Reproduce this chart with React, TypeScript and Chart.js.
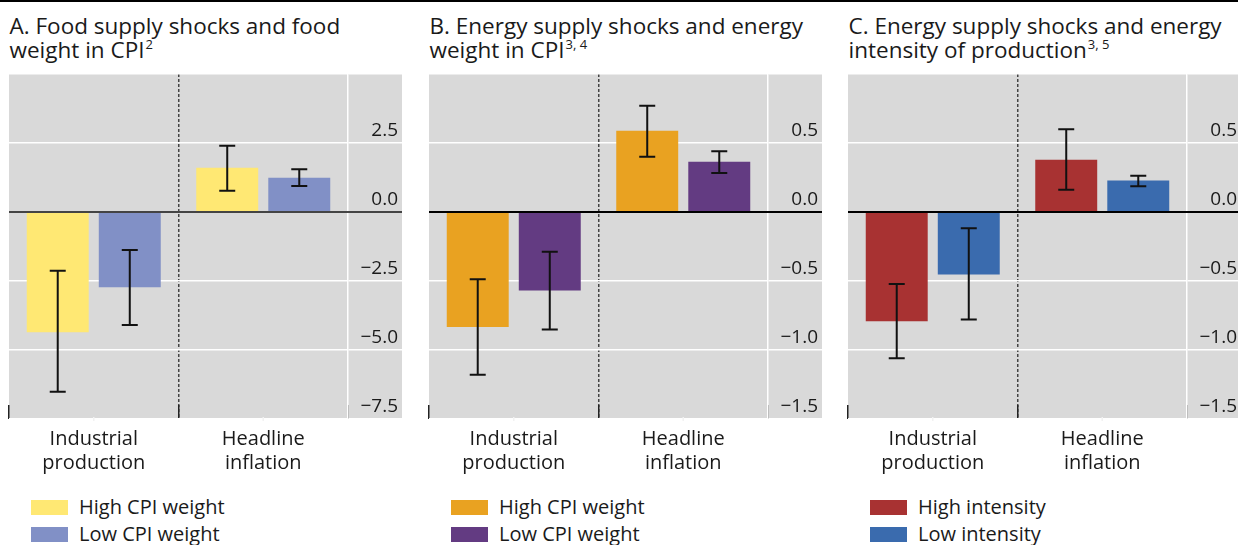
import React, { useEffect, useRef } from 'react';
import { Chart, registerables } from 'chart.js';

Chart.register(...registerables);

// ---------- Data ----------
const CATEGORIES = [['Industrial', 'production'], ['Headline', 'inflation']];

// Panel A: food supply shocks, food weight in CPI
const A_SERIES = ['High CPI weight', 'Low CPI weight'];
const A_HIGH = [-4.36, 1.6];
const A_HIGH_LO = [-6.51, 0.77];
const A_HIGH_HI = [-2.13, 2.4];
const A_LOW = [-2.73, 1.24];
const A_LOW_LO = [-4.09, 0.94];
const A_LOW_HI = [-1.38, 1.55];
const A_AXIS = { min: -7.5, max: 5, step: 2.5 };

// Panel B: energy supply shocks, energy weight in CPI
const B_SERIES = ['High CPI weight', 'Low CPI weight'];
const B_HIGH = [-0.834, 0.588];
const B_HIGH_LO = [-1.18, 0.4];
const B_HIGH_HI = [-0.487, 0.77];
const B_LOW = [-0.568, 0.365];
const B_LOW_LO = [-0.851, 0.283];
const B_LOW_HI = [-0.288, 0.44];
const B_AXIS = { min: -1.5, max: 1, step: 0.5 };

// Panel C: energy supply shocks, energy intensity of production
const C_SERIES = ['High intensity', 'Low intensity'];
const C_HIGH = [-0.791, 0.379];
const C_HIGH_LO = [-1.06, 0.161];
const C_HIGH_HI = [-0.522, 0.6];
const C_LOW = [-0.453, 0.228];
const C_LOW_LO = [-0.779, 0.187];
const C_LOW_HI = [-0.117, 0.262];
const C_AXIS = { min: -1.5, max: 1, step: 0.5 };

const FONT = '"Open Sans", "Noto Sans", sans-serif';
const TEXT = '#1a1a1a';
const PANEL_BG = '#d9d9d9';

// ---------- Plugins ----------
const backgroundPlugin = {
  id: 'panelBg',
  beforeDraw(chart: any) {
    const { ctx, chartArea } = chart;
    const y = chart.scales.y;
    ctx.save();
    ctx.fillStyle = PANEL_BG;
    ctx.fillRect(chartArea.left, chartArea.top, y.right - chartArea.left, chartArea.bottom - chartArea.top);
    ctx.restore();
  },
};

const overlayPlugin = {
  id: 'overlay',
  afterDatasetsDraw(chart: any, _args: any, opts: any) {
    const { ctx, chartArea } = chart;
    const y = chart.scales.y;
    const x = chart.scales.x;
    ctx.save();
    // small light ticks at category centres along the bottom edge
    ctx.strokeStyle = '#f2f2f2';
    ctx.lineWidth = 1.5;
    for (let i = 0; i < x.ticks.length; i++) {
      const px = x.getPixelForTick(i);
      ctx.beginPath();
      ctx.moveTo(px, chartArea.bottom - 2);
      ctx.lineTo(px, chartArea.bottom + 2);
      ctx.stroke();
    }
    // zero line
    const y0 = y.getPixelForValue(0);
    ctx.strokeStyle = opts.zeroColor || '#000';
    ctx.lineWidth = 2;
    ctx.beginPath();
    ctx.moveTo(chartArea.left, y0);
    ctx.lineTo(y.right, y0);
    ctx.stroke();
    // error bars
    ctx.strokeStyle = '#111';
    ctx.lineWidth = 2;
    chart.data.datasets.forEach((ds: any, di: number) => {
      const meta = chart.getDatasetMeta(di);
      meta.data.forEach((el: any, i: number) => {
        const px = el.x;
        const yl = y.getPixelForValue(ds.errLo[i]);
        const yh = y.getPixelForValue(ds.errHi[i]);
        ctx.beginPath();
        ctx.moveTo(px, yl);
        ctx.lineTo(px, yh);
        ctx.moveTo(px - 8, yl);
        ctx.lineTo(px + 8, yl);
        ctx.moveTo(px - 8, yh);
        ctx.lineTo(px + 8, yh);
        ctx.stroke();
      });
    });
    ctx.restore();
  },
};

function fmt(v: number, max: number) {
  if (Math.abs(v - max) < 1e-9) return '';
  const s = Math.abs(v).toFixed(1);
  return v < -1e-9 ? '\u2212' + s : s;
}

type PanelProps = {
  left: number;
  line1: string;
  line2: string;
  sup: string;
  series: string[];
  colors: string[];
  high: number[];
  highLo: number[];
  highHi: number[];
  low: number[];
  lowLo: number[];
  lowHi: number[];
  axis: { min: number; max: number; step: number };
  zeroColor: string;
};

function Panel(p: PanelProps) {
  const ref = useRef<HTMLCanvasElement | null>(null);

  useEffect(() => {
    if (!ref.current) return;
    const chart = new Chart(ref.current, {
      type: 'bar',
      data: {
        labels: CATEGORIES as any,
        datasets: [
          { label: p.series[0], data: p.high, backgroundColor: p.colors[0], errLo: p.highLo, errHi: p.highHi } as any,
          { label: p.series[1], data: p.low, backgroundColor: p.colors[1], errLo: p.lowLo, errHi: p.lowHi } as any,
        ],
      },
      options: {
        animation: false,
        responsive: false,
        maintainAspectRatio: false,
        layout: { padding: { left: 9, top: 4, right: 8, bottom: 0 } },
        datasets: { bar: { categoryPercentage: 0.85, barPercentage: 0.86 } },
        plugins: {
          legend: { display: false },
          tooltip: { enabled: false },
          overlay: { zeroColor: p.zeroColor },
        } as any,
        scales: {
          x: {
            type: 'category',
            offset: true,
            grid: {
              display: true,
              offset: true,
              drawOnChartArea: true,
              color: (ctx: any) => (ctx.index === 1 ? '#444' : 'rgba(0,0,0,0)'),
              lineWidth: 1.5,
              drawTicks: true,
              tickLength: -14,
              tickColor: '#222',
              tickWidth: 1.5,
            },
            border: { display: false, dash: [3, 2] },
            ticks: {
              color: TEXT,
              padding: 23,
              maxRotation: 0,
              autoSkip: false,
              font: { family: FONT, size: 20, lineHeight: 1.175 },
            },
            afterFit: (s: any) => {
              s.height = 71;
              s.paddingLeft = 0;
              s.paddingRight = 0;
            },
          } as any,
          y: {
            position: 'right',
            min: p.axis.min,
            max: p.axis.max,
            grid: {
              color: '#ffffff',
              lineWidth: 1.5,
              drawTicks: true,
              tickLength: 54,
              tickColor: '#ffffff',
            },
            border: { display: true, color: '#ffffff', width: 1.5 },
            ticks: {
              stepSize: p.axis.step,
              mirror: true,
              padding: 50,
              crossAlign: 'near',
              labelOffset: -12,
              color: TEXT,
              font: { family: FONT, size: 19 },
              callback: (v: any) => fmt(Number(v), p.axis.max),
            },
            afterFit: (s: any) => {
              s.width = 54;
              s.paddingTop = 0;
              s.paddingBottom = 0;
            },
          } as any,
        },
      },
      plugins: [backgroundPlugin, overlayPlugin],
    });
    return () => chart.destroy();
  }, []);

  return (
    <>
      <div
        style={{
          position: 'absolute',
          left: p.left + 9.5,
          top: 14.3,
          fontFamily: FONT,
          fontSize: 22.5,
          lineHeight: '23.3px',
          color: TEXT,
          whiteSpace: 'nowrap',
        }}
      >
        {p.line1}
        <br />
        {p.line2}
        <span style={{ fontSize: 13, position: 'relative', top: -9, marginLeft: 1 }}>{p.sup}</span>
      </div>
      <canvas
        ref={ref}
        width={410}
        height={420}
        style={{ position: 'absolute', left: p.left, top: 70, width: 410, height: 420 }}
      />
      {p.series.map((s, i) => (
        <React.Fragment key={s}>
          <div
            style={{
              position: 'absolute',
              left: p.left + 31,
              top: 500 + i * 27.4,
              width: 37,
              height: 15,
              background: p.colors[i],
            }}
          />
          <div
            style={{
              position: 'absolute',
              left: p.left + 79,
              top: 496.5 + i * 27.4,
              fontFamily: FONT,
              fontSize: 20,
              lineHeight: '20px',
              color: TEXT,
              whiteSpace: 'nowrap',
            }}
          >
            {s}
          </div>
        </React.Fragment>
      ))}
    </>
  );
}

export default function App() {
  return (
    <div
      style={{
        position: 'absolute',
        left: 0,
        top: 0,
        width: 1238,
        height: 545,
        overflow: 'hidden',
        background: '#ffffff',
      }}
    >
      <div style={{ position: 'absolute', left: 0, top: 0, width: 1238, height: 2, background: '#000' }} />
      <Panel
        left={0}
        line1="A. Food supply shocks and food"
        line2="weight in CPI"
        sup="2"
        series={A_SERIES}
        colors={['#FFE873', '#8190C6']}
        high={A_HIGH}
        highLo={A_HIGH_LO}
        highHi={A_HIGH_HI}
        low={A_LOW}
        lowLo={A_LOW_LO}
        lowHi={A_LOW_HI}
        axis={A_AXIS}
        zeroColor="#444"
      />
      <Panel
        left={420}
        line1="B. Energy supply shocks and energy"
        line2="weight in CPI"
        sup="3, 4"
        series={B_SERIES}
        colors={['#E9A221', '#633B82']}
        high={B_HIGH}
        highLo={B_HIGH_LO}
        highHi={B_HIGH_HI}
        low={B_LOW}
        lowLo={B_LOW_LO}
        lowHi={B_LOW_HI}
        axis={B_AXIS}
        zeroColor="#000"
      />
      <Panel
        left={839}
        line1="C. Energy supply shocks and energy"
        line2="intensity of production"
        sup="3, 5"
        series={C_SERIES}
        colors={['#A83232', '#3A6BAE']}
        high={C_HIGH}
        highLo={C_HIGH_LO}
        highHi={C_HIGH_HI}
        low={C_LOW}
        lowLo={C_LOW_LO}
        lowHi={C_LOW_HI}
        axis={C_AXIS}
        zeroColor="#000"
      />
    </div>
  );
}
